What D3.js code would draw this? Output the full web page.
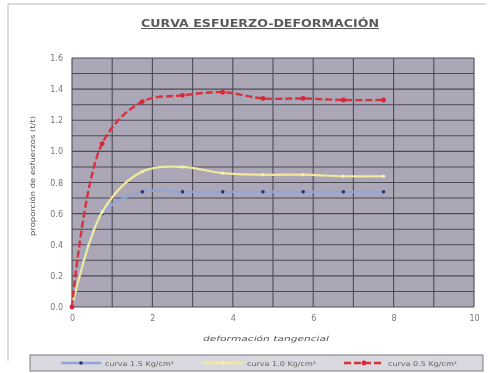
<!DOCTYPE html>
<html>
<head>
<meta charset="utf-8">
<script src="https://cdn.jsdelivr.net/npm/d3@7"></script>
<style>
  html, body { margin: 0; padding: 0; background: #ffffff; }
  svg { display: block; font-family: "DejaVu Sans", Verdana, sans-serif; }
</style>
</head>
<body>
<svg id="chart" width="488" height="373"></svg>
<script>
// Deformación tangencial (eje X) compartida por las tres curvas
const deformacion = [0, 0.75, 1.75, 2.75, 3.75, 4.75, 5.75, 6.75, 7.75];

// Proporción de esfuerzos (t/t) para cada presión normal
const curva15 = [0, 0.60, 0.74, 0.74, 0.74, 0.74, 0.74, 0.74, 0.74];
const curva10 = [0, 0.61, 0.87, 0.90, 0.86, 0.85, 0.85, 0.84, 0.84];
const curva05 = [0, 1.05, 1.32, 1.36, 1.38, 1.34, 1.34, 1.33, 1.33];

const seriesNames = ["curva 1.5 Kg/cm²", "curva 1.0 Kg/cm²", "curva 0.5 Kg/cm²"];

const xTicks = [0, 2, 4, 6, 8, 10];
const yTicks = [0, 0.2, 0.4, 0.6, 0.8, 1.0, 1.2, 1.4, 1.6];

const svg = d3.select("#chart");
const W = 488, H = 373;
const plot = { left: 72, right: 474, top: 58, bottom: 307 };

const x = d3.scaleLinear().domain([0, 10]).range([plot.left, plot.right]);
const y = d3.scaleLinear().domain([0, 1.6]).range([plot.bottom, plot.top]);

// soft scan look
const defs = svg.append("defs");
defs.append("filter").attr("id", "soft")
  .append("feGaussianBlur").attr("stdDeviation", 0.45);

const root = svg.append("g").attr("filter", "url(#soft)");

// chart frame
root.append("path")
  .attr("d", `M8,${H - 12} L8,4 L${W - 2},4`)
  .attr("fill", "none").attr("stroke", "#b8b8b8").attr("stroke-width", 1);

// title
root.append("text")
  .attr("x", 260).attr("y", 27)
  .attr("text-anchor", "middle")
  .attr("font-size", 10.5).attr("font-weight", "bold")
  .attr("fill", "#5a5a5a")
  .attr("text-decoration", "underline")
  .attr("textLength", 238).attr("lengthAdjust", "spacingAndGlyphs")
  .text("CURVA ESFUERZO-DEFORMACIÓN");

// plot background
root.append("rect")
  .attr("x", plot.left).attr("y", plot.top)
  .attr("width", plot.right - plot.left).attr("height", plot.bottom - plot.top)
  .attr("fill", "#aca7b6");

// gridlines
const hGrid = d3.range(0, 17).map(i => i / 10);
root.append("g").selectAll("line").data(hGrid).join("line")
  .attr("x1", plot.left).attr("x2", plot.right)
  .attr("y1", d => y(d)).attr("y2", d => y(d))
  .attr("stroke", "#4e4a55").attr("stroke-width", 1.1);
const vGrid = d3.range(0, 11);
root.append("g").selectAll("line").data(vGrid).join("line")
  .attr("y1", plot.top).attr("y2", plot.bottom)
  .attr("x1", d => x(d)).attr("x2", d => x(d))
  .attr("stroke", "#4e4a55").attr("stroke-width", 1.1);

// axes
const axisY = d3.axisLeft(y).tickValues(yTicks).tickFormat(d3.format(".1f")).tickSize(0).tickPadding(9);
const gy = root.append("g").attr("transform", `translate(${plot.left},0)`).call(axisY);
const axisX = d3.axisBottom(x).tickValues(xTicks).tickFormat(d3.format("d")).tickSize(0).tickPadding(8);
const gx = root.append("g").attr("transform", `translate(0,${plot.bottom})`).call(axisX);
[gx, gy].forEach(g => {
  g.select(".domain").remove();
  g.selectAll("text").attr("fill", "#777").attr("font-size", 8)
    .attr("font-family", "'DejaVu Sans', Verdana, sans-serif");
});

// axis titles
root.append("text")
  .attr("transform", `translate(35,176) rotate(-90)`)
  .attr("text-anchor", "middle").attr("font-size", 7).attr("fill", "#555")
  .attr("textLength", 120).attr("lengthAdjust", "spacingAndGlyphs")
  .text("proporción de esfuerzos (t/t)");
root.append("text")
  .attr("x", 266).attr("y", 341)
  .attr("text-anchor", "middle").attr("font-size", 7).attr("fill", "#555")
  .attr("font-style", "italic")
  .attr("textLength", 126).attr("lengthAdjust", "spacingAndGlyphs")
  .text("deformación tangencial");

// series
const series = [
  { values: curva15, line: "#8fa6d6", width: 2.4, dash: null, marker: "#2a3470", r: 1.8 },
  { values: curva10, line: "#f2ea9a", width: 2.2, dash: null, marker: "#f6f0b8", r: 1.7 },
  { values: curva05, line: "#d8303c", width: 2.4, dash: "7,3", marker: "#d82535", r: 2.4 }
];

const lineGen = d3.line()
  .x(d => x(d[0])).y(d => y(d[1]))
  .curve(d3.curveCatmullRom.alpha(0.5));

series.forEach(s => {
  const pts = deformacion.map((d, i) => [d, s.values[i]]);
  root.append("path")
    .datum(pts)
    .attr("d", lineGen)
    .attr("fill", "none")
    .attr("stroke", s.line)
    .attr("stroke-width", s.width)
    .attr("stroke-dasharray", s.dash);
  root.append("g").selectAll("circle").data(pts).join("circle")
    .attr("cx", d => x(d[0])).attr("cy", d => y(d[1]))
    .attr("r", s.r).attr("fill", s.marker);
});

// legend
const lg = root.append("g");
lg.append("rect")
  .attr("x", 30).attr("y", 355).attr("width", 453).attr("height", 16)
  .attr("fill", "#d9d8de").attr("stroke", "#7a7a80").attr("stroke-width", 1);
const legendX = [61, 203, 344];
series.forEach((s, i) => {
  const lx = legendX[i];
  lg.append("line")
    .attr("x1", lx).attr("x2", lx + 40).attr("y1", 363).attr("y2", 363)
    .attr("stroke", s.line).attr("stroke-width", 2.4).attr("stroke-dasharray", s.dash);
  lg.append("circle").attr("cx", lx + 20).attr("cy", 363).attr("r", s.r).attr("fill", s.marker);
  lg.append("text")
    .attr("x", lx + 44).attr("y", 365.5)
    .attr("font-size", 6.5).attr("fill", "#666")
    .attr("textLength", 69).attr("lengthAdjust", "spacingAndGlyphs")
    .text(seriesNames[i]);
});
</script>
</body>
</html>
